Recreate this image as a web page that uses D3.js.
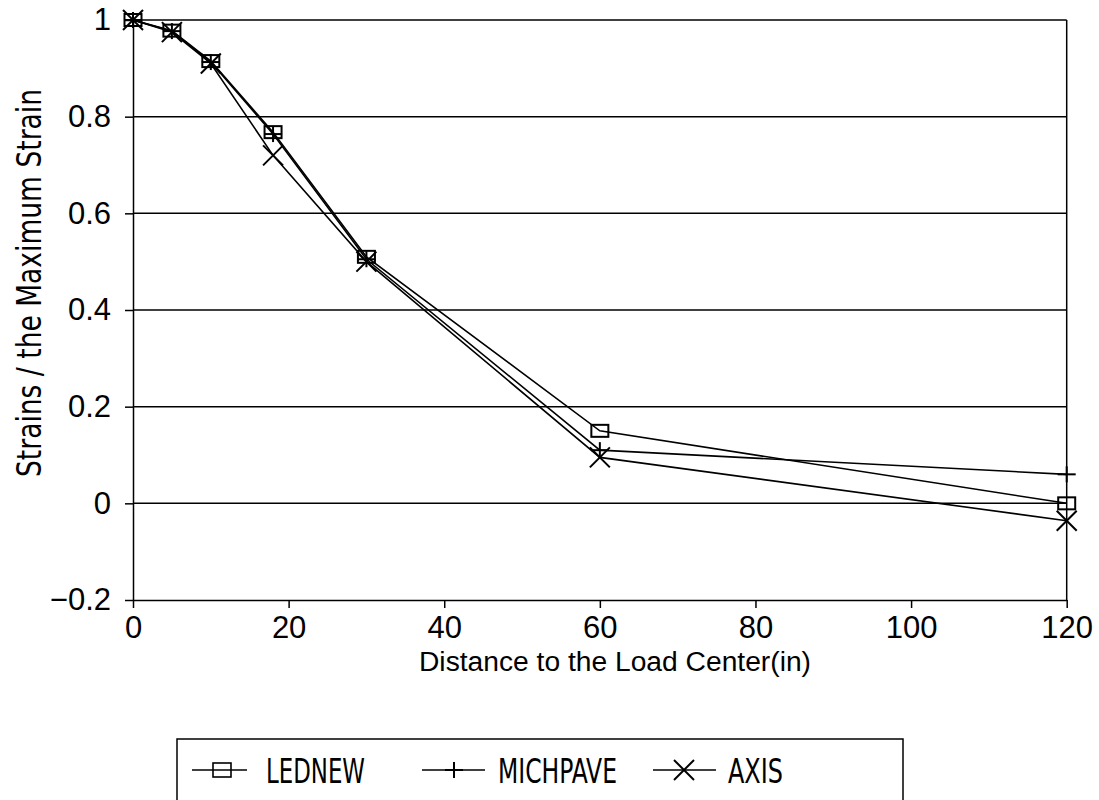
<!DOCTYPE html>
<html><head><meta charset="utf-8">
<script src="https://cdn.jsdelivr.net/npm/d3@7"></script>
<style>body{margin:0;background:#fff}svg{display:block}</style>
</head><body><svg id="c" width="1099" height="800"></svg>
<script>
const distances = [0, 5, 10, 18, 30, 60, 120];
const ledNew   = [1.0, 0.978, 0.915, 0.768, 0.510, 0.150, 0.000];
const michPave = [1.0, 0.977, 0.913, 0.764, 0.505, 0.110, 0.060];
const axisVals = [1.0, 0.975, 0.910, 0.720, 0.500, 0.095, -0.036];
const seriesNames = ["LEDNEW", "MICHPAVE", "AXIS"];
const markerTypes = ["square", "plus", "cross"];
const xTicks = [0, 20, 40, 60, 80, 100, 120];
const yTicks = [-0.2, 0, 0.2, 0.4, 0.6, 0.8, 1];
const yTickLabels = ["\u22120.2", "0", "0.2", "0.4", "0.6", "0.8", "1"];
const xTitle = "Distance to the Load Center(in)";
const yTitle = "Strains / the Maximum Strain";

const series = [ledNew, michPave, axisVals].map((vals, i) => ({
  name: seriesNames[i], marker: markerTypes[i],
  points: distances.map((d, j) => ({x: d, y: vals[j]}))
}));

const svg = d3.select("#c");
const m = {l: 133, r: 1066.7, t: 20, b: 600};
const x = d3.scaleLinear().domain([0, 120]).range([m.l, m.r]);
const y = d3.scaleLinear().domain([-0.2, 1]).range([m.b, m.t]);
const narrow = "'Liberation Sans Narrow', 'DejaVu Sans Condensed', 'Liberation Sans', sans-serif";
const regular = "'Liberation Sans', Arial, sans-serif";

svg.append("rect").attr("width", 1099).attr("height", 800).attr("fill", "#fff");

// gridlines
svg.append("g").selectAll("line").data(yTicks.filter(v => v > -0.2)).join("line")
  .attr("x1", m.l).attr("x2", m.r)
  .attr("y1", d => y(d)).attr("y2", d => y(d))
  .attr("stroke", "#000").attr("stroke-width", 1.5);

// right border
svg.append("line").attr("x1", m.r).attr("x2", m.r).attr("y1", m.t).attr("y2", m.b)
  .attr("stroke", "#000").attr("stroke-width", 1.5);

// y axis
const yAxis = svg.append("g").attr("transform", `translate(${m.l},0)`)
  .call(d3.axisLeft(y).tickValues(yTicks).tickSize(8).tickSizeOuter(0).tickPadding(14)
    .tickFormat((d, i) => yTickLabels[i]));
yAxis.selectAll("path,line").attr("stroke", "#000").attr("stroke-width", 1.5);
yAxis.selectAll("text").attr("font-family", regular).attr("font-size", 31).attr("fill", "#000");

// x axis
const xAxis = svg.append("g").attr("transform", `translate(0,${m.b})`)
  .call(d3.axisBottom(x).tickValues(xTicks).tickSize(8).tickSizeOuter(0).tickPadding(8)
    .tickFormat(d3.format("d")));
xAxis.selectAll("path,line").attr("stroke", "#000").attr("stroke-width", 1.5);
xAxis.selectAll("text").attr("font-family", regular).attr("font-size", 31).attr("fill", "#000");

// titles
svg.append("text").attr("x", 615).attr("y", 671).attr("text-anchor", "middle")
  .attr("font-family", regular).attr("font-size", 27)
  .attr("textLength", 392).attr("lengthAdjust", "spacingAndGlyphs")
  .text(xTitle);
svg.append("text").attr("transform", "translate(41,283) rotate(-90)").attr("text-anchor", "middle")
  .attr("font-family", narrow).attr("font-size", 34)
  .attr("textLength", 388).attr("lengthAdjust", "spacingAndGlyphs")
  .text(yTitle);

// marker drawing
function drawMarker(g, type, cx, cy, w) {
  const sw = w || 2;
  if (type === "square") {
    g.append("rect").attr("x", cx - 8.5).attr("y", cy - 6).attr("width", 17).attr("height", 12)
      .attr("fill", "none").attr("stroke", "#000").attr("stroke-width", sw);
  } else if (type === "plus") {
    g.append("line").attr("x1", cx - 9).attr("x2", cx + 9).attr("y1", cy).attr("y2", cy)
      .attr("stroke", "#000").attr("stroke-width", sw);
    g.append("line").attr("x1", cx).attr("x2", cx).attr("y1", cy - 8).attr("y2", cy + 8)
      .attr("stroke", "#000").attr("stroke-width", sw);
  } else {
    g.append("line").attr("x1", cx - 10).attr("x2", cx + 10).attr("y1", cy - 10).attr("y2", cy + 10)
      .attr("stroke", "#000").attr("stroke-width", sw);
    g.append("line").attr("x1", cx - 10).attr("x2", cx + 10).attr("y1", cy + 10).attr("y2", cy - 10)
      .attr("stroke", "#000").attr("stroke-width", sw);
  }
}

const line = d3.line().x(d => x(d.x)).y(d => y(d.y));
series.forEach(s => {
  svg.append("path").datum(s.points).attr("d", line)
    .attr("fill", "none").attr("stroke", "#000").attr("stroke-width", 1.6);
});
series.forEach(s => {
  const g = svg.append("g");
  s.points.forEach(p => drawMarker(g, s.marker, x(p.x), y(p.y)));
});

// legend
const lg = svg.append("g");
lg.append("rect").attr("x", 177).attr("y", 739).attr("width", 726).attr("height", 90)
  .attr("fill", "none").attr("stroke", "#000").attr("stroke-width", 1.5);
const legendItems = [
  {lx1: 192, lx2: 247, mx: 222, tx: 266, tw: 99},
  {lx1: 422, lx2: 485, mx: 454, tx: 498, tw: 119},
  {lx1: 653, lx2: 716, mx: 684, tx: 728, tw: 55}
];
series.forEach((s, i) => {
  const it = legendItems[i];
  const ly = 770;
  lg.append("line").attr("x1", it.lx1).attr("x2", it.lx2).attr("y1", ly).attr("y2", ly)
    .attr("stroke", "#000").attr("stroke-width", 1.6);
  const g = lg.append("g");
  if (s.marker === "square") {
    g.append("rect").attr("x", it.mx - 9).attr("y", ly - 7).attr("width", 18).attr("height", 14)
      .attr("fill", "none").attr("stroke", "#000").attr("stroke-width", 1.6);
  } else drawMarker(g, s.marker, it.mx, ly, 2);
  lg.append("text").attr("x", it.tx).attr("y", 783)
    .attr("font-family", narrow).attr("font-size", 33)
    .attr("textLength", it.tw).attr("lengthAdjust", "spacingAndGlyphs")
    .text(s.name);
});
</script>
</body></html>
